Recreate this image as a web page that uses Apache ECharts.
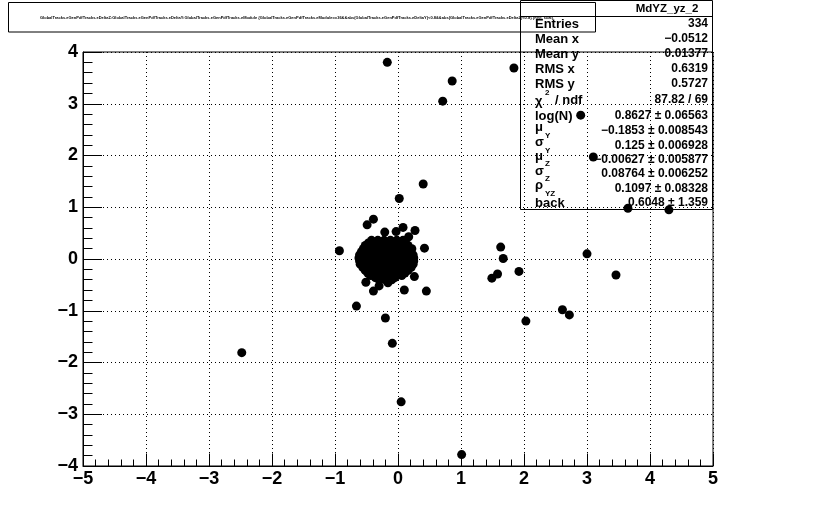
<!DOCTYPE html>
<html><head><meta charset="utf-8">
<script src="https://cdn.jsdelivr.net/npm/echarts@6/dist/echarts.min.js"></script>
<style>html,body{margin:0;padding:0;background:#fff}#c{width:839px;height:518px}</style>
</head><body><div id="c"></div>
<script>
// ---- data ----
const histName = 'MdYZ_yz_2';
const drawTitle = 'GlobalTracks.eGenPdfTracks.eDeltaZ:GlobalTracks.eGenPdfTracks.eDeltaY:GlobalTracks.eGenPdfTracks.eModule {GlobalTracks.eGenPdfTracks.eModule==36&&abs(GlobalTracks.eGenPdfTracks.eDeltaY)<0.8&&abs(GlobalTracks.eGenPdfTracks.eDeltaZ)<0.8} {hist, scat}';
const xTickValues = [-5,-4,-3,-2,-1,0,1,2,3,4,5];
const xTickLabels = ['\u22125','\u22124','\u22123','\u22122','\u22121','0','1','2','3','4','5'];
const yTickValues = [-4,-3,-2,-1,0,1,2,3,4];
const yTickLabels = ['\u22124','\u22123','\u22122','\u22121','0','1','2','3','4'];

// isolated points [Y, Z]
const outlierPoints = [
  [-0.17,3.80],[0.86,3.44],[0.71,3.05],[1.84,3.69],[2.90,2.78],[3.10,1.97],
  [3.65,0.98],[4.30,0.95],[0.40,1.45],[0.02,1.17],
  [-0.49,0.66],[-0.39,0.77],[0.08,0.61],[0.17,0.43],[0.27,0.55],[0.42,0.21],
  [-0.93,0.16],[-0.21,0.52],[-0.03,0.53],
  [0.26,-0.34],[-0.51,-0.45],[-0.39,-0.62],[0.10,-0.60],[0.45,-0.62],
  [-0.66,-0.91],[-0.20,-1.14],[-0.09,-1.63],[-0.30,-0.52],[-0.16,-0.46],
  [1.63,0.23],[1.67,0.01],[1.49,-0.37],[1.58,-0.29],[1.92,-0.24],
  [3.00,0.10],[3.46,-0.31],[2.61,-0.98],[2.72,-1.08],[2.03,-1.20],
  [-2.48,-1.81],[0.05,-2.76],[1.01,-3.78]
];
// dense core points [Y, Z]
const corePoints = [
  [-0.42,0.36],[-0.32,0.36],[-0.22,0.36],[-0.12,0.36],[-0.02,0.36],[0.08,0.36],
  [-0.52,0.26],[-0.42,0.26],[-0.32,0.26],[-0.22,0.26],[-0.12,0.26],[-0.02,0.26],[0.08,0.26],[0.16,0.26],
  [-0.47,0.31],[-0.37,0.31],[-0.27,0.31],[-0.17,0.31],[-0.07,0.31],[0.03,0.31],[0.12,0.31],
  [-0.58,0.14],[-0.48,0.14],[-0.38,0.14],[-0.28,0.14],[-0.18,0.14],[-0.08,0.14],[0.02,0.14],[0.12,0.14],[0.20,0.14],
  [-0.55,0.20],[-0.45,0.20],[-0.35,0.20],[-0.25,0.20],[-0.15,0.20],[-0.05,0.20],[0.05,0.20],[0.15,0.20],[0.22,0.20],
  [-0.62,0.02],[-0.52,0.02],[-0.42,0.02],[-0.32,0.02],[-0.22,0.02],[-0.12,0.02],[-0.02,0.02],[0.08,0.02],[0.18,0.02],[0.25,0.02],
  [-0.61,0.08],[-0.53,0.08],[-0.43,0.08],[-0.33,0.08],[-0.23,0.08],[-0.13,0.08],[-0.03,0.08],[0.07,0.08],[0.17,0.08],[0.24,0.08],
  [-0.60,-0.10],[-0.50,-0.10],[-0.40,-0.10],[-0.30,-0.10],[-0.20,-0.10],[-0.10,-0.10],[0.00,-0.10],[0.10,-0.10],[0.20,-0.10],[0.24,-0.10],
  [-0.61,-0.04],[-0.55,-0.04],[-0.45,-0.04],[-0.35,-0.04],[-0.25,-0.04],[-0.15,-0.04],[-0.05,-0.04],[0.05,-0.04],[0.15,-0.04],[0.25,-0.04],
  [-0.52,-0.22],[-0.42,-0.22],[-0.32,-0.22],[-0.22,-0.22],[-0.12,-0.22],[-0.02,-0.22],[0.08,-0.22],[0.16,-0.22],
  [-0.56,-0.16],[-0.46,-0.16],[-0.36,-0.16],[-0.26,-0.16],[-0.16,-0.16],[-0.06,-0.16],[0.04,-0.16],[0.14,-0.16],[0.21,-0.16],
  [-0.44,-0.32],[-0.34,-0.32],[-0.24,-0.32],[-0.14,-0.32],[-0.04,-0.32],[0.06,-0.32],
  [-0.48,-0.27],[-0.38,-0.27],[-0.28,-0.27],[-0.18,-0.27],[-0.08,-0.27],[0.02,-0.27],[0.11,-0.27],
  [-0.30,-0.40],[-0.20,-0.40],[-0.10,-0.40],[-0.36,-0.36],[-0.25,-0.36],[-0.15,-0.36],[-0.05,-0.36]
];

// stats box content
const statLabels = ['Entries','Mean x','Mean y','RMS x','RMS y','\u03c7','log(N)','\u03bc','\u03c3','\u03bc','\u03c3','\u03c1','back'];
const statSubs   = ['','','','','','','','Y','Y','Z','Z','YZ',''];
const statValues = ['334','\u22120.0512','0.01377','0.6319','0.5727','87.82 / 69',
  '0.8627 \u00b1 0.06563','\u22120.1853 \u00b1 0.008543','0.125 \u00b1 0.006928',
  '\u22120.00627 \u00b1 0.005877','0.08764 \u00b1 0.006252','0.1097 \u00b1 0.08328','0.6048 \u00b1 1.359'];

// ---- layout ----
const FONT = '"Liberation Sans", Arial, sans-serif';
const labelY = [24,39,54,69,84,101,116,127,142,156,171,185,203];
const subY   = [0,0,0,0,0,0,0,136,151,164,179,194,0];
const valueY = [24,39,54,69,84,100,116,131,146,160,174,189,203];

const chart = echarts.init(document.getElementById('c'), null, {renderer:'canvas'});
const graphics = [];
graphics.push({type:'rect', shape:{x:8.5,y:2.5,width:587,height:29.5}, style:{fill:'none',stroke:'#000',lineWidth:1}, z:10});
graphics.push({type:'text', x:40, y:18, style:{text:drawTitle, font:'bold 4px '+FONT, fill:'#000', verticalAlign:'middle'}, z:11});
graphics.push({type:'rect', shape:{x:520.5,y:0.5,width:192,height:209}, style:{fill:'none',stroke:'#000',lineWidth:1}, z:10});
graphics.push({type:'line', shape:{x1:520,y1:16.5,x2:713,y2:16.5}, style:{stroke:'#000',lineWidth:1}, z:10});
graphics.push({type:'text', x:667, y:9, style:{text:histName, font:'bold 11.5px '+FONT, fill:'#000', align:'center', verticalAlign:'middle'}, z:11});
for (let i=0;i<statLabels.length;i++){
  graphics.push({type:'text', x:535, y:labelY[i], style:{text:statLabels[i], font:'bold 13px '+FONT, fill:'#000', verticalAlign:'middle'}, z:11});
  if (statSubs[i]) graphics.push({type:'text', x:545, y:subY[i], style:{text:statSubs[i], font:'bold 8px '+FONT, fill:'#000', verticalAlign:'middle'}, z:11});
  graphics.push({type:'text', x:708, y:valueY[i], style:{text:statValues[i], font:'bold 12px '+FONT, fill:'#000', align:'right', verticalAlign:'middle'}, z:11});
}
// chi2 superscript and "/ ndf"
graphics.push({type:'text', x:545, y:93, style:{text:'2', font:'bold 8px '+FONT, fill:'#000', verticalAlign:'middle'}, z:11});
graphics.push({type:'text', x:555, y:100, style:{text:'/ ndf', font:'bold 13px '+FONT, fill:'#000', verticalAlign:'middle'}, z:11});

const dotted = {show:true, lineStyle:{color:'#000', width:1, type:[1,3]}};
chart.setOption({
  animation:false,
  backgroundColor:'#fff',
  grid:{left:83, right:126, top:52, bottom:52, show:true, borderColor:'#000', borderWidth:1, backgroundColor:'transparent'},
  xAxis:{type:'value', min:-5, max:5, interval:1,
    axisLine:{show:true, onZero:false, lineStyle:{color:'#000', width:1}},
    axisTick:{show:true, inside:true, length:12.5, lineStyle:{color:'#000'}},
    minorTick:{show:true, splitNumber:5, length:6.5, lineStyle:{color:'#000'}},
    splitLine:dotted,
    axisLabel:{margin:4, color:'#000', fontFamily:FONT, fontWeight:'bold', fontSize:18,
      formatter:v=>{const k=xTickValues.indexOf(Math.round(v)); return k>=0?xTickLabels[k]:'';}}
  },
  yAxis:{type:'value', min:-4, max:4, interval:1,
    axisLine:{show:true, onZero:false, lineStyle:{color:'#000', width:1}},
    axisTick:{show:true, inside:true, length:19, lineStyle:{color:'#000'}},
    minorTick:{show:true, splitNumber:5, length:9.5, lineStyle:{color:'#000'}},
    splitLine:dotted,
    axisLabel:{margin:5, color:'#000', fontFamily:FONT, fontWeight:'bold', fontSize:18,
      formatter:v=>{const k=yTickValues.indexOf(Math.round(v)); return k>=0?yTickLabels[k]:'';}}
  },
  series:[
    {type:'scatter', data:corePoints, symbol:'circle', symbolSize:9, itemStyle:{color:'#000', opacity:1}, silent:true},
    {type:'scatter', data:outlierPoints, symbol:'circle', symbolSize:9, itemStyle:{color:'#000', opacity:1}, silent:true}
  ],
  graphic:graphics
});
</script>
</body></html>
